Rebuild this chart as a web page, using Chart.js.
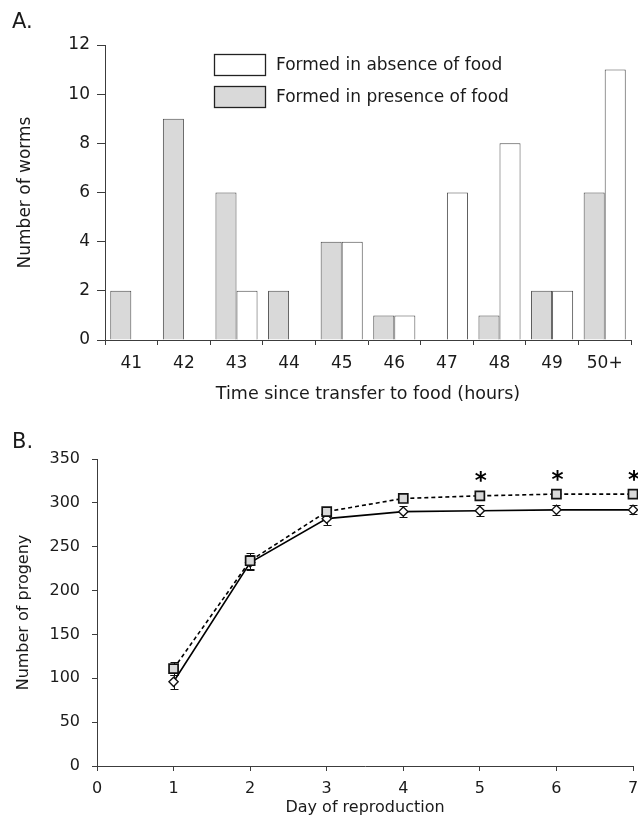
<!DOCTYPE html>
<html>
<head>
<meta charset="utf-8">
<script src="https://cdn.jsdelivr.net/npm/chart.js@4.4.1/dist/chart.umd.min.js"></script>
<style>
  html, body { margin: 0; padding: 0; background: #ffffff; }
  #wrap { position: relative; width: 638px; height: 821px; overflow: hidden; background: #ffffff; }
  canvas { position: absolute; left: 0; }
  #topChart { top: 0; }
  #bottomChart { top: 410px; }
</style>
</head>
<body>
<div id="wrap">
  <canvas id="topChart" width="638" height="410"></canvas>
  <canvas id="bottomChart" width="638" height="411"></canvas>
</div>
<script>
// ---- Panel A: worms per hour bin ----
const hourLabels = ['41', '42', '43', '44', '45', '46', '47', '48', '49', '50+'];
const presenceCounts = [2, 9, 6, 2, 4, 1, 0, 1, 2, 6];
const absenceCounts  = [0, 0, 2, 0, 4, 1, 6, 8, 2, 11];
const wormTicks = { min: 0, max: 12, step: 2 };

// ---- Panel B: cumulative progeny by day ----
const days = [1, 2, 3, 4, 5, 6, 7];
const progenySquare  = [111, 234, 290, 305, 308, 310, 310];
const squareErr      = [7, 9, 5, 4, 4, 4, 3];
const progenyDiamond = [96, 232, 282, 290, 291, 292, 292];
const diamondErr     = [8, 8, 7, 6, 6, 6, 5];
const significantDays = [5, 6, 7];
const progenyTicks = { min: 0, max: 350, step: 50 };
const dayTicks = { min: 0, max: 7, step: 1 };

const FONT = 'DejaVu Sans';
const INK = '#1a1a1a';
const AXIS = '#3c3c3c';

Chart.defaults.font.family = FONT;
Chart.defaults.color = INK;
Chart.defaults.animation = false;

// panel letter in the top-left corner
const panelLetter = {
  id: 'panelLetter',
  afterDraw(chart, args, opts) {
    const ctx = chart.ctx;
    ctx.save();
    ctx.font = '21px "' + FONT + '"';
    ctx.fillStyle = INK;
    ctx.textBaseline = 'alphabetic';
    ctx.textAlign = 'left';
    ctx.fillText(opts.text, opts.x, opts.y);
    ctx.restore();
  }
};

// boxed legend drawn inside the plot area
const boxLegend = {
  id: 'boxLegend',
  afterDraw(chart, args, opts) {
    const ctx = chart.ctx;
    const area = chart.chartArea;
    ctx.save();
    ctx.font = opts.fontSize + 'px "' + FONT + '"';
    ctx.textBaseline = 'middle';
    ctx.textAlign = 'left';
    opts.order.forEach((dsIndex, k) => {
      const ds = chart.data.datasets[dsIndex];
      const bx = area.left + opts.dx;
      const by = area.top + opts.dy + k * opts.rowGap;
      ctx.fillStyle = ds.backgroundColor;
      ctx.fillRect(bx, by, opts.boxW, opts.boxH);
      ctx.lineWidth = 1.3;
      ctx.strokeStyle = '#222';
      ctx.strokeRect(bx + 0.5, by + 0.5, opts.boxW, opts.boxH);
      ctx.fillStyle = INK;
      ctx.fillText(ds.label, bx + opts.boxW + opts.gap, by + opts.boxH / 2 + 1);
    });
    ctx.restore();
  }
};

// vertical error bars with caps
const errorBars = {
  id: 'errorBars',
  beforeDatasetsDraw(chart, args, opts) {
    const ctx = chart.ctx;
    const xs = chart.scales.x, ys = chart.scales.y;
    ctx.save();
    ctx.strokeStyle = '#111';
    ctx.lineWidth = 1;
    chart.data.datasets.forEach(ds => {
      if (!ds.errors) return;
      ds.data.forEach((pt, j) => {
        const e = ds.errors[j];
        const px = Math.round(xs.getPixelForValue(pt.x)) + 0.5;
        const top = Math.round(ys.getPixelForValue(pt.y + e)) + 0.5;
        const bot = Math.round(ys.getPixelForValue(pt.y - e)) + 0.5;
        ctx.beginPath();
        ctx.moveTo(px, top); ctx.lineTo(px, bot);
        ctx.moveTo(px - opts.cap, top); ctx.lineTo(px + opts.cap, top);
        ctx.moveTo(px - opts.cap, bot); ctx.lineTo(px + opts.cap, bot);
        ctx.stroke();
      });
    });
    ctx.restore();
  }
};

// asterisks above the significant days of the dashed series
const sigMarks = {
  id: 'sigMarks',
  afterDatasetsDraw(chart, args, opts) {
    const ctx = chart.ctx;
    const meta = chart.getDatasetMeta(opts.datasetIndex);
    ctx.save();
    ctx.font = 'bold 23px "' + FONT + '"';
    ctx.fillStyle = '#000';
    ctx.textAlign = 'center';
    ctx.textBaseline = 'alphabetic';
    const m = ctx.measureText('*');
    const mid = (m.actualBoundingBoxAscent - m.actualBoundingBoxDescent) / 2;
    opts.days.forEach(d => {
      const idx = days.indexOf(d);
      const el = meta.data[idx];
      ctx.fillText('*', el.x + 1, el.y - opts.lift + mid);
    });
    ctx.restore();
  }
};

// keep the plot edges fixed regardless of edge tick label widths
function noEdgePadding(scale) {
  scale.paddingLeft = 0;
  scale.paddingRight = 0;
  scale.paddingTop = 0;
  scale.paddingBottom = 0;
}

// ---------- Panel A ----------
new Chart(document.getElementById('topChart'), {
  type: 'bar',
  data: {
    labels: hourLabels,
    datasets: [
      {
        label: 'Formed in presence of food',
        data: presenceCounts,
        backgroundColor: '#d9d9d9',
        borderColor: '#4a4a4a',
        borderWidth: 1
      },
      {
        label: 'Formed in absence of food',
        data: absenceCounts,
        backgroundColor: '#ffffff',
        borderColor: '#4a4a4a',
        borderWidth: 1
      }
    ]
  },
  options: {
    responsive: false,
    devicePixelRatio: 1,
    datasets: { bar: { categoryPercentage: 0.8, barPercentage: 1.0 } },
    layout: { autoPadding: false, padding: { top: 45, right: 7, left: 0, bottom: 0 } },
    plugins: {
      legend: { display: false },
      tooltip: { enabled: false },
      panelLetter: { text: 'A.', x: 12, y: 28 },
      boxLegend: { order: [1, 0], dx: 109, dy: 9, rowGap: 32, boxW: 51, boxH: 21, gap: 11, fontSize: 17 }
    },
    scales: {
      x: {
        grid: { offset: true, drawOnChartArea: false, drawTicks: true, tickLength: 5, color: AXIS },
        border: { color: AXIS, width: 1 },
        ticks: { font: { size: 17 }, padding: 8, color: INK, maxRotation: 0 },
        title: { display: true, text: 'Time since transfer to food (hours)', font: { size: 17.5 }, color: INK, padding: { top: 0, bottom: 5 } },
        afterFit(scale) { scale.height = 70; noEdgePadding(scale); }
      },
      y: {
        min: wormTicks.min,
        max: wormTicks.max,
        grid: { drawOnChartArea: false, drawTicks: true, tickLength: 8, color: AXIS },
        border: { color: AXIS, width: 1 },
        ticks: { stepSize: wormTicks.step, font: { size: 17 }, padding: 7, color: INK },
        title: { display: true, text: 'Number of worms', font: { size: 17 }, color: INK, padding: { top: 15, bottom: 0 } },
        afterFit(scale) { scale.width = 105; noEdgePadding(scale); }
      }
    }
  },
  plugins: [panelLetter, boxLegend]
});

// ---------- Panel B ----------
new Chart(document.getElementById('bottomChart'), {
  type: 'line',
  data: {
    datasets: [
      {
        label: 'Square series',
        data: days.map((d, i) => ({ x: d, y: progenySquare[i] })),
        errors: squareErr,
        borderColor: '#000',
        borderWidth: 1.6,
        borderDash: [4, 3],
        pointStyle: 'rect',
        pointRadius: 6.4,
        pointBackgroundColor: '#d9d9d9',
        pointBorderColor: '#111',
        pointBorderWidth: 1.7,
        tension: 0,
        clip: false,
        order: 0
      },
      {
        label: 'Diamond series',
        data: days.map((d, i) => ({ x: d, y: progenyDiamond[i] })),
        errors: diamondErr,
        borderColor: '#000',
        borderWidth: 1.6,
        pointStyle: 'rectRot',
        pointRadius: 4.6,
        pointBackgroundColor: '#ffffff',
        pointBorderColor: '#111',
        pointBorderWidth: 1.4,
        tension: 0,
        clip: false,
        order: 1
      }
    ]
  },
  options: {
    responsive: false,
    devicePixelRatio: 1,
    layout: { autoPadding: false, padding: { top: 49, right: 5, left: 0, bottom: 0 } },
    plugins: {
      legend: { display: false },
      tooltip: { enabled: false },
      panelLetter: { text: 'B.', x: 12, y: 38 },
      errorBars: { cap: 4 },
      sigMarks: { datasetIndex: 0, days: significantDays, lift: 19 }
    },
    scales: {
      x: {
        type: 'linear',
        min: dayTicks.min,
        max: dayTicks.max,
        grid: { drawOnChartArea: false, drawTicks: true, tickLength: 5, color: AXIS },
        border: { color: AXIS, width: 1 },
        ticks: { stepSize: dayTicks.step, font: { size: 16 }, padding: 8, color: INK },
        title: { display: true, text: 'Day of reproduction', font: { size: 16 }, color: INK, padding: { top: 0, bottom: 4 } },
        afterFit(scale) { scale.height = 55; noEdgePadding(scale); }
      },
      y: {
        min: progenyTicks.min,
        max: progenyTicks.max,
        grid: { drawOnChartArea: false, drawTicks: true, tickLength: 5, color: AXIS },
        border: { color: AXIS, width: 1 },
        ticks: { stepSize: progenyTicks.step, font: { size: 16 }, padding: 12, color: INK },
        title: { display: true, text: 'Number of progeny', font: { size: 16 }, color: INK, padding: { top: 14, bottom: 0 } },
        afterFit(scale) { scale.width = 97; noEdgePadding(scale); }
      }
    }
  },
  plugins: [panelLetter, errorBars, sigMarks]
});
</script>
</body>
</html>
